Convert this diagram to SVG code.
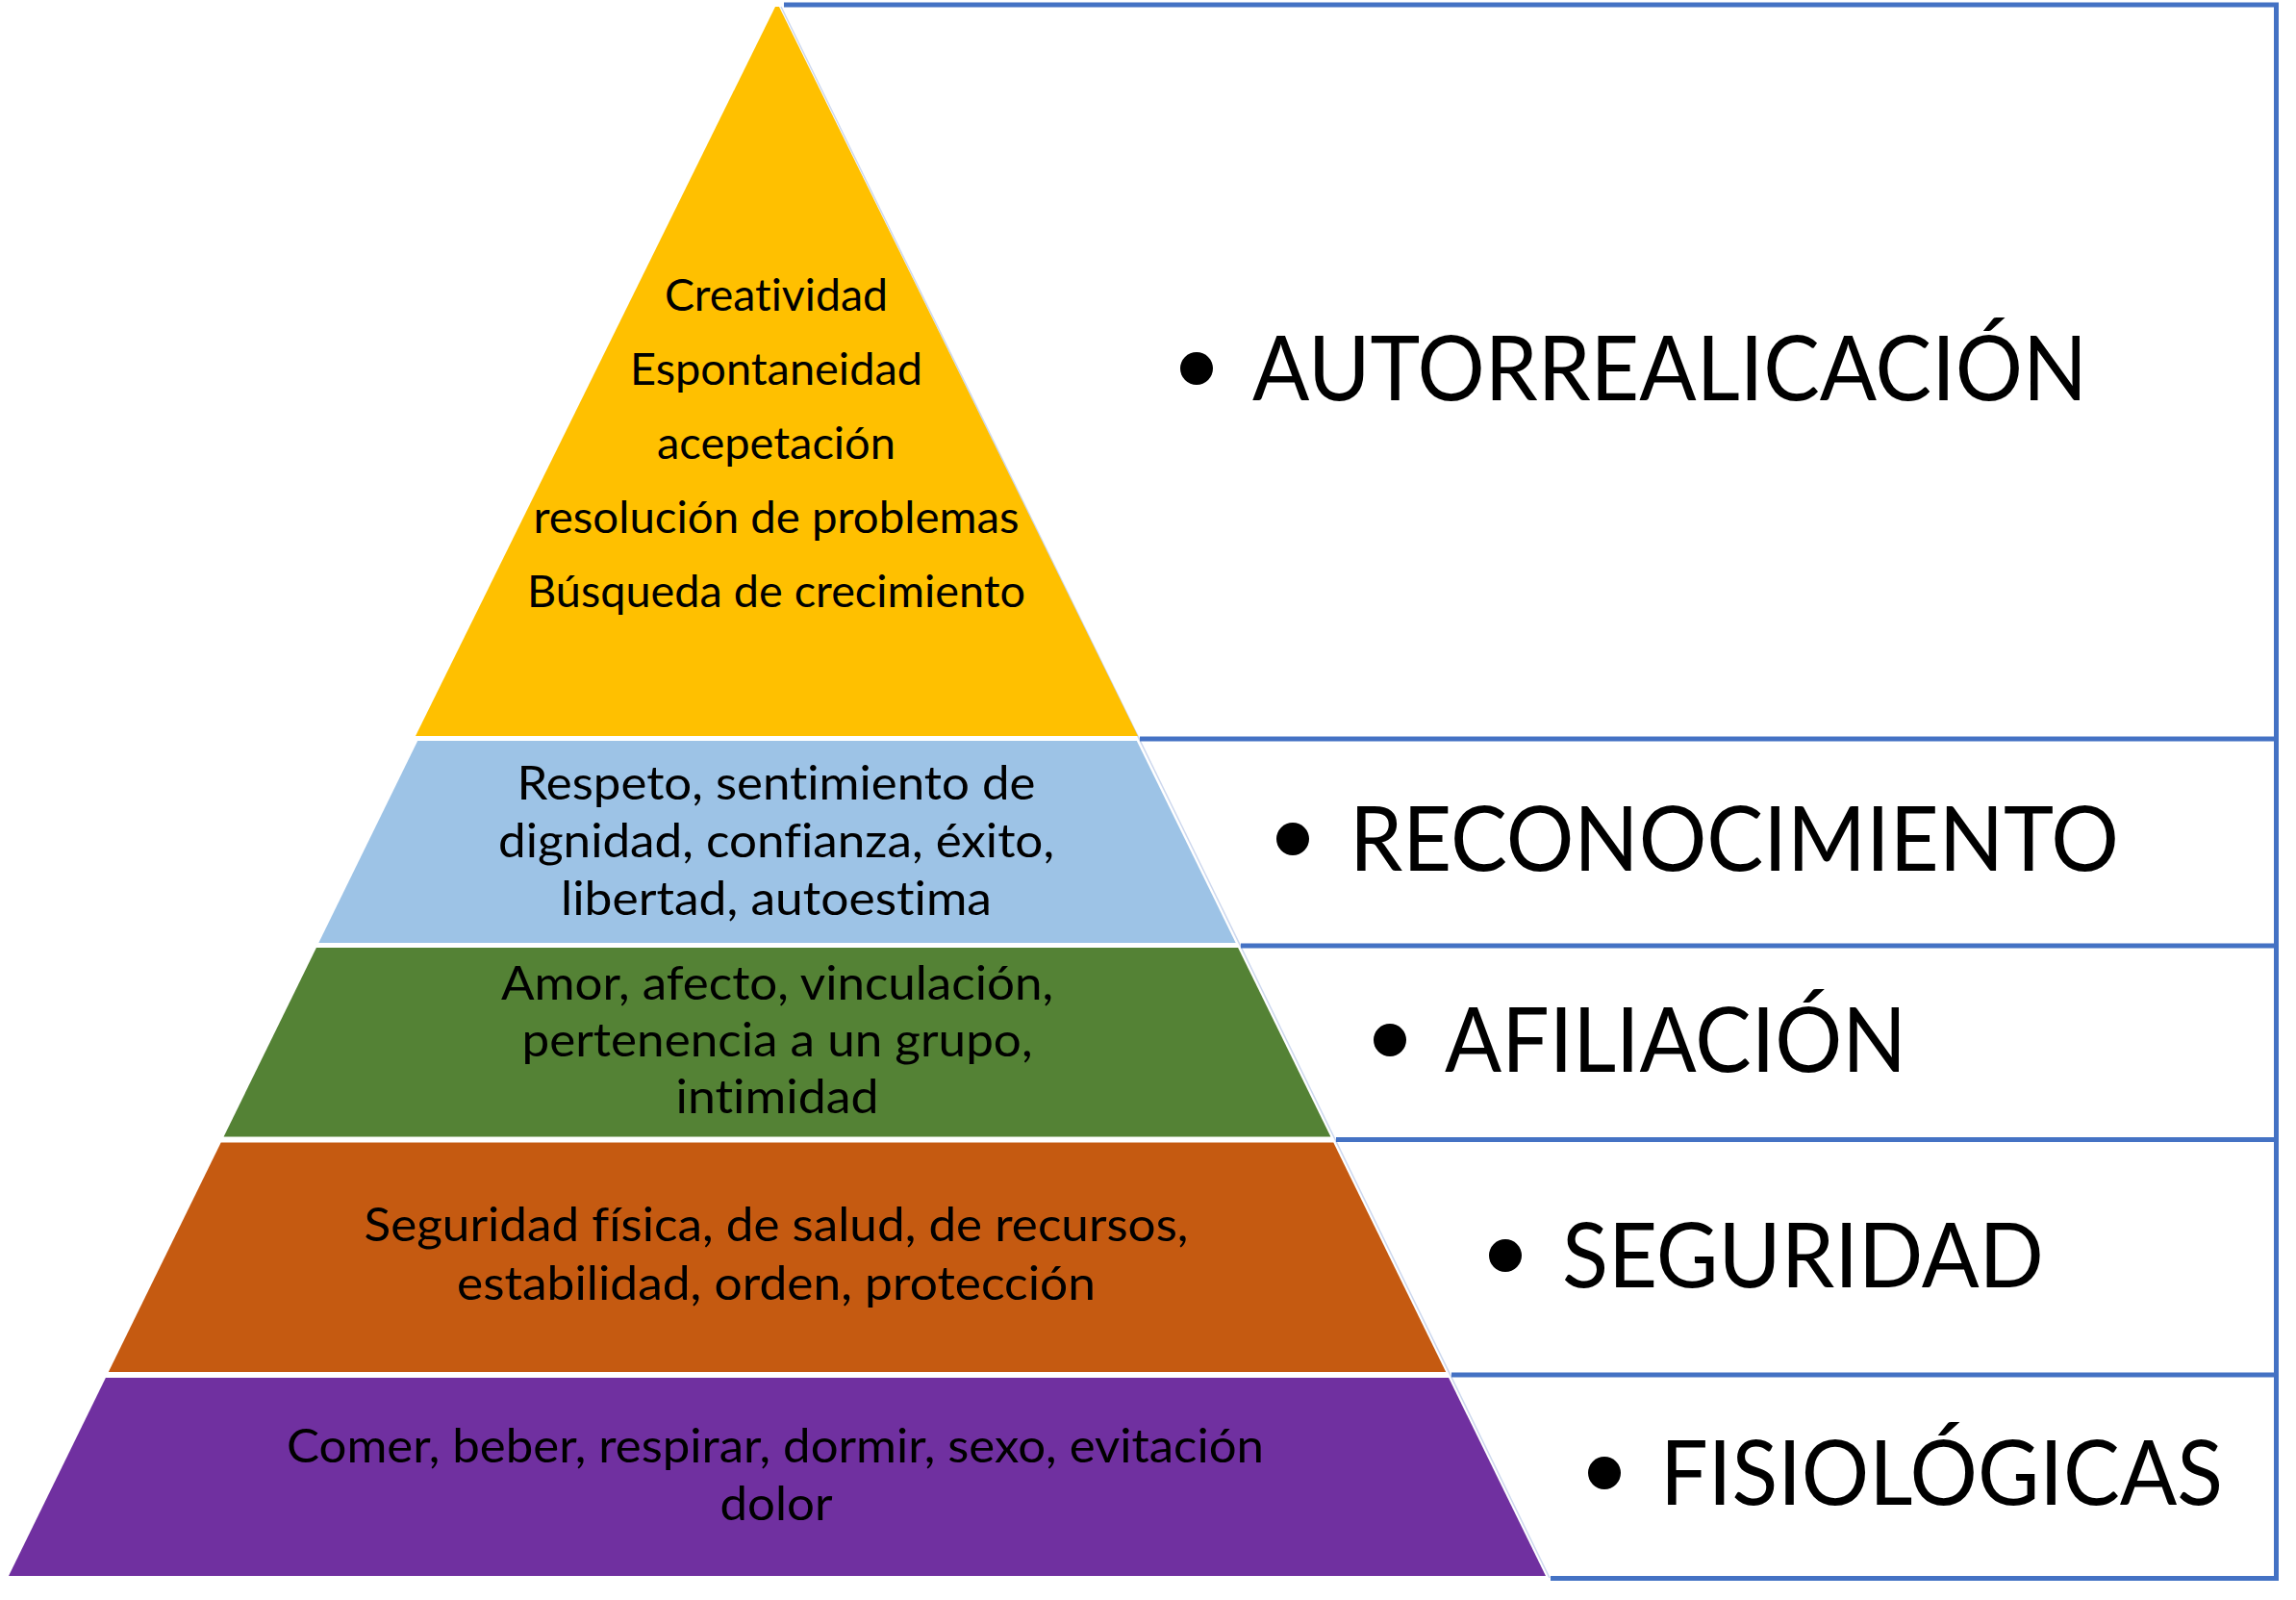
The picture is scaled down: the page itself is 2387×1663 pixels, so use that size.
<svg xmlns="http://www.w3.org/2000/svg" width="2387" height="1663" viewBox="0 0 2387 1663">
<style>
text{font-variant-ligatures:none;font-feature-settings:"liga" 0,"clig" 0}
.pt{font-family:Lato,"Liberation Sans",sans-serif;font-size:49px;fill:#000;text-anchor:middle}
.py{font-size:45.5px}
.lb{font-family:Lato,"Liberation Sans",sans-serif;font-size:93px;fill:#000}
.grid{stroke:#4472C4;stroke-width:5;fill:none}
.edge{stroke:#cdd8ee;stroke-width:1.5;fill:none}
</style>
<rect width="2387" height="1663" fill="#fff"/>
<g id="connectors">
<path class="edge" d="M812 7 L1611 1640"/>
<path class="grid" d="M815 5 H2369 M2366.5 2.5 V1643 M1185 768 H2369 M1290 983 H2369 M1389 1184.5 H2369 M1509 1429 H2369 M1612 1640.5 H2369"/>
</g>
<g id="autorrealizacion">
<polygon points="806,7 810,7 1183,765 432,765" fill="#FFC000"/>
<text class="pt py" x="807" y="323" textLength="232" lengthAdjust="spacingAndGlyphs">Creatividad</text>
<text class="pt py" x="807" y="400" textLength="304" lengthAdjust="spacingAndGlyphs">Espontaneidad</text>
<text class="pt py" x="807" y="477" textLength="248" lengthAdjust="spacingAndGlyphs">acepetación</text>
<text class="pt py" x="807" y="554" textLength="505" lengthAdjust="spacingAndGlyphs">resolución de problemas</text>
<text class="pt py" x="807" y="631" textLength="518" lengthAdjust="spacingAndGlyphs">Búsqueda de crecimiento</text>
<circle cx="1244" cy="383" r="17"/>
<text class="lb" x="1302" y="416" textLength="868" lengthAdjust="spacingAndGlyphs">AUTORREALICACIÓN</text>
</g>
<g id="reconocimiento">
<polygon points="434.2,770 1181.8,770 1284.7,980 331.3,980" fill="#9DC3E6"/>
<text class="pt" x="807" y="831" textLength="539" lengthAdjust="spacingAndGlyphs">Respeto, sentimiento de</text>
<text class="pt" x="807" y="891" textLength="578" lengthAdjust="spacingAndGlyphs">dignidad, confianza, éxito,</text>
<text class="pt" x="807" y="951" textLength="448" lengthAdjust="spacingAndGlyphs">libertad, autoestima</text>
<circle cx="1344" cy="872" r="17"/>
<text class="lb" x="1403" y="905" textLength="800" lengthAdjust="spacingAndGlyphs">RECONOCIMIENTO</text>
</g>
<g id="afiliacion">
<polygon points="328.9,985 1287.1,985 1383.4,1181.5 232.6,1181.5" fill="#548235"/>
<text class="pt" x="808" y="1039" textLength="574" lengthAdjust="spacingAndGlyphs">Amor, afecto, vinculación,</text>
<text class="pt" x="808" y="1098" textLength="531" lengthAdjust="spacingAndGlyphs">pertenencia a un grupo,</text>
<text class="pt" x="808" y="1157" textLength="211" lengthAdjust="spacingAndGlyphs">intimidad</text>
<circle cx="1445" cy="1081" r="17"/>
<text class="lb" x="1502" y="1114" textLength="480" lengthAdjust="spacingAndGlyphs">AFILIACIÓN</text>
</g>
<g id="seguridad">
<polygon points="229.7,1187.5 1386.3,1187.5 1503.2,1426 112.8,1426" fill="#C55A11"/>
<text class="pt" x="807" y="1290" textLength="857" lengthAdjust="spacingAndGlyphs">Seguridad física, de salud, de recursos,</text>
<text class="pt" x="807" y="1351" textLength="664" lengthAdjust="spacingAndGlyphs">estabilidad, orden, protección</text>
<circle cx="1565" cy="1305" r="17"/>
<text class="lb" x="1624" y="1338" textLength="501" lengthAdjust="spacingAndGlyphs">SEGURIDAD</text>
</g>
<g id="fisiologicas">
<polygon points="109.9,1432 1506.1,1432 1607,1638 9,1638" fill="#7030A0"/>
<text class="pt" x="806" y="1520" textLength="1016" lengthAdjust="spacingAndGlyphs">Comer, beber, respirar, dormir, sexo, evitación</text>
<text class="pt" x="807" y="1580" textLength="117" lengthAdjust="spacingAndGlyphs">dolor</text>
<circle cx="1668" cy="1531" r="17"/>
<text class="lb" x="1726" y="1564" textLength="585" lengthAdjust="spacingAndGlyphs">FISIOLÓGICAS</text>
</g>
</svg>
